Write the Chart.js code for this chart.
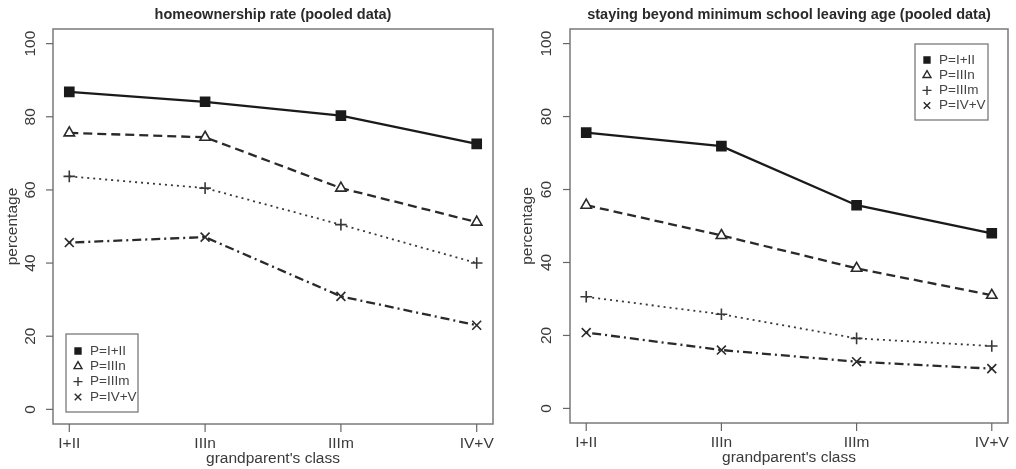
<!DOCTYPE html>
<html>
<head>
<meta charset="utf-8">
<script src="https://cdn.jsdelivr.net/npm/chart.js@4/dist/chart.umd.min.js"></script>
<style>
  body { margin: 0; background: #fff; width: 1016px; height: 469px; overflow: hidden; position: relative; }
  canvas { position: absolute; top: 0; }
</style>
</head>
<body>
<canvas id="homeChart" width="508" height="469" style="left:0"></canvas>
<canvas id="schoolChart" width="508" height="469" style="left:508px"></canvas>
<script>
// categories and tick labels
const classes = ["I+II", "IIIn", "IIIm", "IV+V"];
const seriesNames = ["P=I+II", "P=IIIn", "P=IIIm", "P=IV+V"];
const yTicks = [0, 20, 40, 60, 80, 100];

// homeownership rate (pooled data)
const homeI_II = [86.8, 84.1, 80.3, 72.6];
const homeIIIn = [75.6, 74.4, 60.5, 51.2];
const homeIIIm = [63.7, 60.5, 50.5, 40.0];
const homeIV_V = [45.6, 47.1, 30.9, 23.0];

// staying beyond minimum school leaving age (pooled data)
const schoolI_II = [75.6, 71.9, 55.7, 48.0];
const schoolIIIn = [55.7, 47.4, 38.4, 31.0];
const schoolIIIm = [30.6, 25.8, 19.2, 17.1];
const schoolIV_V = [20.8, 16.0, 12.8, 10.9];

const FONT = '"Liberation Sans", Arial, Helvetica, sans-serif';

// one look per series: line dash + R-like plotting symbol
const looks = [
    { dash: [], width: 2.3, color: "#1a1a1a", point: "rect", r: 6.4, fill: "#1a1a1a", legR: 4.2 },
    { dash: [9, 5], width: 2.3, color: "#2a2a2a", point: "triangle", r: 6, fill: "#fff", legR: 4.6 },
    { dash: [2, 4], width: 1.8, color: "#383838", point: "cross", r: 5.8, fill: "#fff", legR: 4.5 },
    { dash: [2, 4, 9, 4], width: 2.3, color: "#2a2a2a", point: "crossRot", r: 6.3, fill: "#fff", legR: 4.6 }
];

function makeDatasets(seriesList) {
    return seriesList.map((vals, i) => ({
        label: seriesNames[i],
        data: classes.map((c, k) => ({ x: k + 1, y: vals[k] })),
        borderColor: looks[i].color,
        borderWidth: looks[i].width,
        borderDash: looks[i].dash,
        pointStyle: looks[i].point,
        pointRadius: looks[i].r,
        pointBorderColor: looks[i].color,
        pointBackgroundColor: looks[i].fill,
        pointBorderWidth: 1.6,
        tension: 0,
        clip: false
    }));
}

// ===============================
// R-style frame, axes, titles, legend
// ===============================
const rStyle = {
    id: "rStyle",
    afterDraw(chart, args, opts) {
        const ctx = chart.ctx;
        const a = chart.chartArea;
        const xs = chart.scales.x;
        const ys = chart.scales.y;
        ctx.save();

        // plot box
        ctx.strokeStyle = "#7a7a7a";
        ctx.lineWidth = 1.5;
        ctx.setLineDash([]);
        ctx.strokeRect(a.left, a.top, a.right - a.left, a.bottom - a.top);

        // x axis ticks and labels
        ctx.strokeStyle = "#666";
        ctx.lineWidth = 1.2;
        ctx.fillStyle = "#3a3a3a";
        ctx.font = "15.5px " + FONT;
        ctx.textAlign = "center";
        ctx.textBaseline = "middle";
        classes.forEach((c, i) => {
            const px = xs.getPixelForValue(i + 1);
            ctx.beginPath();
            ctx.moveTo(px, a.bottom);
            ctx.lineTo(px, a.bottom + 8);
            ctx.stroke();
            ctx.fillText(c, px, a.bottom + 20);
        });
        ctx.fillText("grandparent's class", (a.left + a.right) / 2, a.bottom + 35);

        // y axis ticks and rotated labels
        yTicks.forEach(t => {
            const py = ys.getPixelForValue(t);
            ctx.beginPath();
            ctx.moveTo(a.left, py);
            ctx.lineTo(a.left - 7, py);
            ctx.stroke();
            ctx.save();
            ctx.translate(a.left - opts.tickLabelGap, py);
            ctx.rotate(-Math.PI / 2);
            ctx.fillText(String(t), 0, 0);
            ctx.restore();
        });
        ctx.save();
        ctx.translate(a.left - opts.axisTitleGap, (a.top + a.bottom) / 2);
        ctx.rotate(-Math.PI / 2);
        ctx.fillText("percentage", 0, 0);
        ctx.restore();

        // main title
        ctx.fillStyle = "#2a2a2a";
        ctx.font = "bold 14.5px " + FONT;
        ctx.fillText(opts.title, (a.left + a.right) / 2, 15);

        // legend
        const L = opts.legend;
        ctx.fillStyle = "#fff";
        ctx.fillRect(L.x, L.y, L.w, L.h);
        ctx.strokeStyle = "#7a7a7a";
        ctx.lineWidth = 1.3;
        ctx.strokeRect(L.x, L.y, L.w, L.h);
        ctx.font = "13.5px " + FONT;
        ctx.textAlign = "left";
        chart.data.datasets.forEach((ds, i) => {
            const ry = L.y + L.firstRow + i * L.rowStep;
            ctx.strokeStyle = looks[i].color;
            ctx.fillStyle = looks[i].fill;
            ctx.lineWidth = 1.4;
            Chart.helpers.drawPoint(ctx, { pointStyle: ds.pointStyle, radius: looks[i].legR, rotation: 0, borderWidth: 1.4 }, L.x + L.symX, ry);
            ctx.fillStyle = "#444";
            ctx.fillText(ds.label, L.x + L.textX, ry);
        });

        ctx.restore();
    }
};

function buildChart(id, seriesList, title, padding, legend, gaps) {
    return new Chart(document.getElementById(id), {
        type: "line",
        data: { datasets: makeDatasets(seriesList) },
        options: {
            responsive: false,
            animation: false,
            devicePixelRatio: 1,
            layout: { padding: padding },
            scales: {
                x: { type: "linear", min: 0.88, max: 4.12, display: false },
                y: { type: "linear", min: -4, max: 104, display: false }
            },
            plugins: {
                legend: { display: false },
                tooltip: { enabled: false },
                rStyle: {
                    title: title,
                    legend: legend,
                    tickLabelGap: gaps.tick,
                    axisTitleGap: gaps.title
                }
            }
        },
        plugins: [rStyle]
    });
}

buildChart(
    "homeChart",
    [homeI_II, homeIIIn, homeIIIm, homeIV_V],
    "homeownership rate (pooled data)",
    { left: 53, right: 15, top: 29, bottom: 45 },
    { x: 66, y: 334, w: 72, h: 78, firstRow: 17, rowStep: 15.3, symX: 12, textX: 24 },
    { tick: 22, title: 40 }
);

buildChart(
    "schoolChart",
    [schoolI_II, schoolIIIn, schoolIIIm, schoolIV_V],
    "staying beyond minimum school leaving age (pooled data)",
    { left: 62, right: 7, top: 29, bottom: 46 },
    { x: 407, y: 44, w: 73, h: 76, firstRow: 16, rowStep: 15.2, symX: 12, textX: 24 },
    { tick: 23, title: 42 }
);
</script>
</body>
</html>
